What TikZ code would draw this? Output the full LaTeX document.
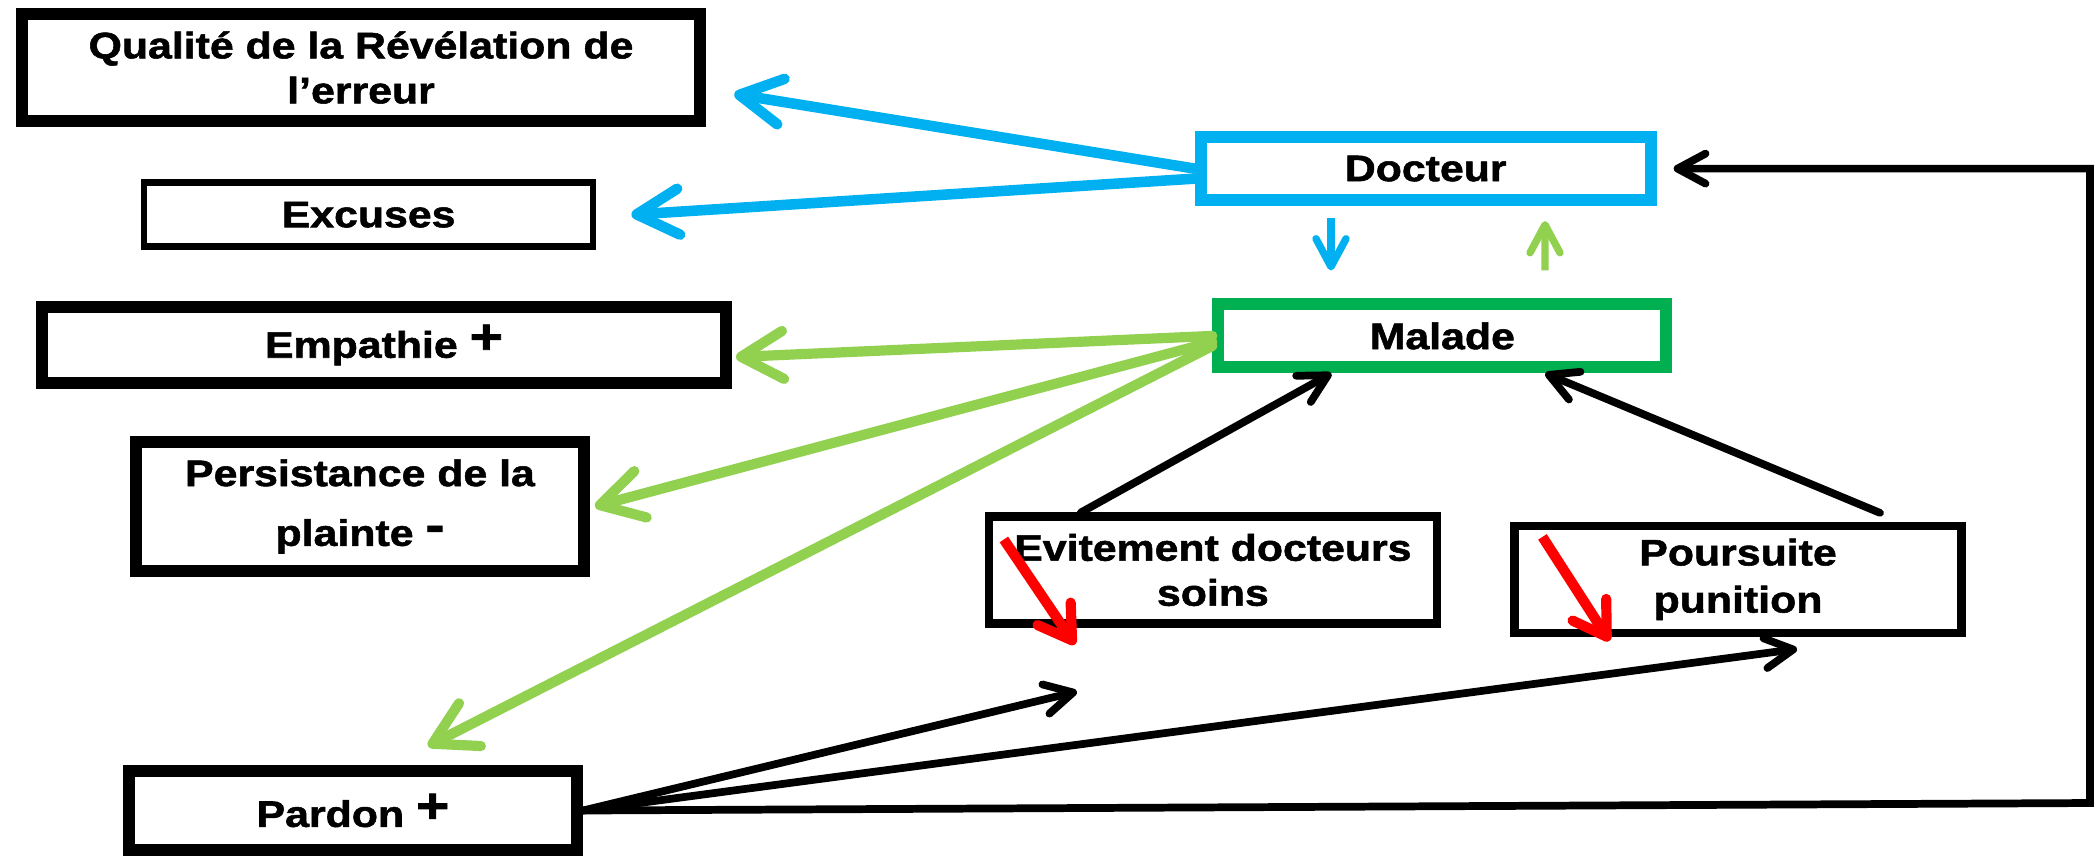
\documentclass[tikz,border=0pt]{standalone}
\usepackage{fontspec}
\setmainfont{Liberation Sans}
\newfontfamily\grasfont[FakeStretch=1.16, FakeBold=1.5]{Liberation Sans Bold}
\usetikzlibrary{arrows.meta}
\definecolor{bleuc}{HTML}{00B0F0}
\definecolor{vertc}{HTML}{92D050}
\definecolor{vertf}{HTML}{00B050}
\definecolor{rouge}{HTML}{FF0000}
\newcommand{\signe}[1]{\raisebox{1.2pt}{\fontsize{14}{14}\selectfont #1}}

\begin{document}
\begin{tikzpicture}[
        cadre/.style={draw, line width=3.4pt, inner sep=0pt, align=center, font=\grasfont\fontsize{10.5}{12.8}\selectfont},
        bleu/.style={draw=bleuc, line width=3pt, line cap=round, -{Straight Barb[round, length=4.2mm, width=4.6mm]}},
        vert/.style={draw=vertc, line width=2.9pt, line cap=round, -{Straight Barb[round, length=4.2mm, width=4.8mm]}},
        petit/.style={line width=2.1pt, -{Straight Barb[round, length=2.8mm, width=3mm]}},
        noir/.style={line width=2.2pt, line cap=round, -{Straight Barb[round, length=2.8mm, width=3mm]}},
        baisse/.style={draw=rouge, line width=2.9pt, -{Straight Barb[round, length=3.2mm, width=4mm]}}
    ]
                    \useasboundingbox (0, 0) rectangle (20.98, -8.56);

                    \node [cadre, minimum width=6.785cm, minimum height=1.07cm] (qualite) at (3.61, -0.675) {Qualité de la Révélation de\\l’erreur};
                    \node [cadre, line width=1.9pt, minimum width=4.49cm, minimum height=0.64cm] (excuses) at (3.686, -2.147) {Excuses};
                    \node [cadre, minimum width=6.84cm, minimum height=0.764cm] (empathie) at (3.84, -3.45) {Empathie \signe{+}};
                    \node [cadre, minimum width=4.48cm, minimum height=1.287cm, font=\grasfont\fontsize{10.5}{17}\selectfont] (plainte) at (3.60, -5.064) {Persistance de la\\plainte \signe{-}};
                    \node [cadre, minimum width=4.48cm, minimum height=0.79cm] (pardon) at (3.53, -8.105) {Pardon \signe{+}};
                    \node [cadre, draw=bleuc, minimum width=4.50cm, minimum height=0.63cm] (docteur) at (14.257, -1.686) {Docteur};
                    \node [cadre, draw=vertf, minimum width=4.48cm, minimum height=0.63cm] (malade) at (14.423, -3.359) {Malade};
                    \node [cadre, line width=2.3pt, minimum width=4.48cm, minimum height=1.07cm] (evitement) at (12.129, -5.70) {Evitement docteurs\\soins};
                    \node [cadre, line width=2.3pt, minimum width=4.47cm, minimum height=1.07cm, font=\grasfont\fontsize{10.5}{13.4}\selectfont] (poursuite) at (17.38, -5.794) {Poursuite\\punition};

                    \draw [bleu] (docteur.west) -- ([xshift=0.28cm, yshift=-0.265cm] qualite.east);
                    \draw [bleu] ([yshift=-0.1cm] docteur.west) -- ([xshift=0.35cm] excuses.east);
                    \draw [petit, draw=bleuc] ([xshift=-0.947cm, yshift=-0.12cm] docteur.south) -- ([xshift=-1.113cm, yshift=0.28cm] malade.north);
                    \draw [petit, draw=vertc] ([xshift=1.027cm, yshift=0.28cm] malade.north) -- ([xshift=1.193cm, yshift=-0.15cm] docteur.south);

                    \draw [vert] (malade.west) -- ([xshift=0.04cm, yshift=-0.12cm] empathie.east);
                    \draw [vert] ([yshift=-0.06cm] malade.west) -- ([xshift=0.05cm] plainte.east);
                    \draw [vert] ([yshift=-0.1cm] malade.west) -- ([xshift=0.75cm, yshift=0.19cm] pardon.north);

                    \draw [noir] ([xshift=-1.32cm] evitement.north) -- ([xshift=-1.11cm] malade.south);
                    \draw [noir] ([xshift=1.42cm, yshift=0.09cm] poursuite.north) -- ([xshift=1.03cm] malade.south);
                    \draw [noir] (pardon.east) -- ([xshift=-1.36cm, yshift=-0.64cm] evitement.south);
                    \draw [noir] (pardon.east) -- ([xshift=0.59cm, yshift=-0.12cm] poursuite.south);
                    \draw [noir] (pardon.east) -- (20.90, -8.03) |- ([xshift=0.17cm] docteur.east);

                    \draw [baisse] ([xshift=0.19cm, yshift=-0.27cm] evitement.north west) -- ([xshift=0.90cm, yshift=-0.17cm] evitement.south west);
                    \draw [baisse] ([xshift=0.32cm, yshift=-0.15cm] poursuite.north west) -- ([xshift=0.99cm, yshift=-0.04cm] poursuite.south west);
                \end{tikzpicture}
\end{document}
